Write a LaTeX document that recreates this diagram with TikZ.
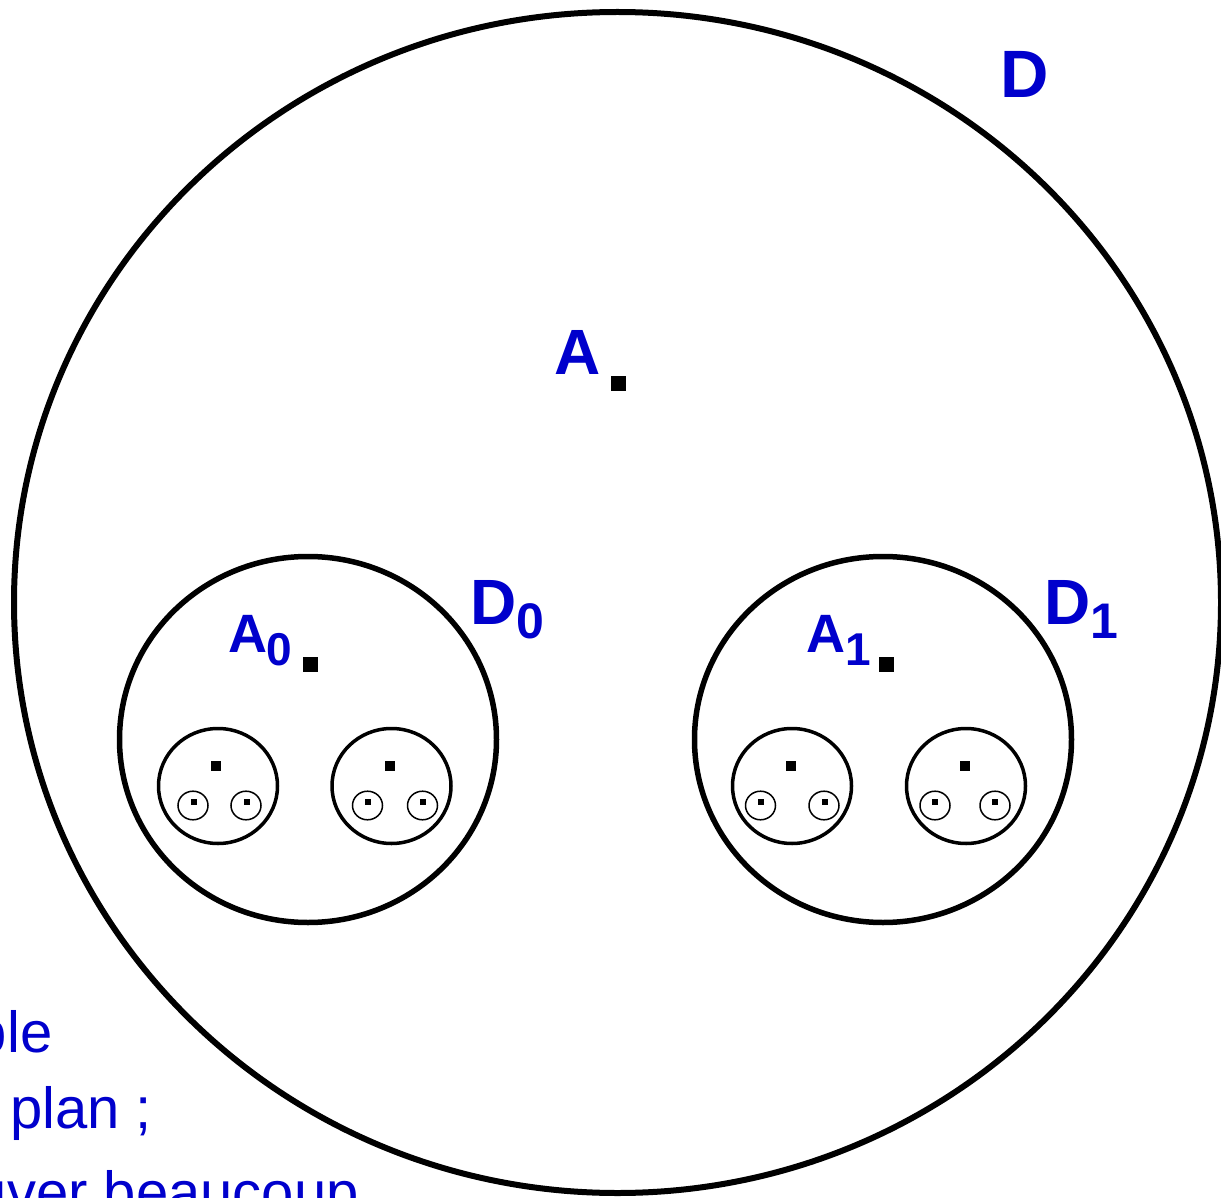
\documentclass[tikz,border=0pt]{standalone}
\usepackage{fontspec}
\setmainfont{Liberation Sans}
\definecolor{lblue}{RGB}{0,0,204}
\tikzset{
  bigring/.style={draw=black,line width=6pt},
  dring/.style={draw=black,line width=5.5pt},
  smallring/.style={draw=black,line width=3.5pt},
  tinyring/.style={draw=black,line width=1.5pt},
  ptbig/.style={fill=black,minimum size=15pt,inner sep=0pt,outer sep=0pt,rectangle},
  ptmid/.style={fill=black,minimum size=10pt,inner sep=0pt,outer sep=0pt,rectangle},
  pttiny/.style={fill=black,minimum size=6pt,inner sep=0pt,outer sep=0pt,rectangle},
  lbl/.style={text=lblue,inner sep=0pt,outer sep=0pt,anchor=base west,font=\bfseries},
  body/.style={text=lblue,inner sep=0pt,outer sep=0pt,anchor=base west,font=\fontsize{58}{58}\selectfont}
}
\begin{document}
\begin{tikzpicture}[x=1pt,y=-1pt]
\useasboundingbox (0,0) rectangle (1221,1198);
\clip (0,0) rectangle (1221,1198);
\fill[white] (0,0) rectangle (1221,1198);
% big domain D
\draw[bigring] (617.5,602.5) ellipse [x radius=603.5, y radius=590.5];
% D0 and D1
\draw[dring] (308,739.5) ellipse [x radius=188.5, y radius=183];
\draw[dring] (883,739.5) ellipse [x radius=188.5, y radius=183];
% small circles
\foreach \cx in {218,391.5,792,966}{
  \draw[smallring] (\cx,786) ellipse [x radius=59.5, y radius=57.5];
}
% tiny circles
\foreach \cx in {193,246,367.5,422.5,760.5,824,935,995}{
  \draw[tinyring] (\cx,805.5) ellipse [x radius=15, y radius=14.3];
}
% points
\node[ptbig] (pA) at (618,383) {};
\node[ptbig] (pA0) at (310,664) {};
\node[ptbig] (pA1) at (886,664) {};
\node[ptmid] (p00) at (216,766) {};
\node[ptmid] (p01) at (390,766) {};
\node[ptmid] (p10) at (791,766) {};
\node[ptmid] (p11) at (965,766) {};
\foreach \tx/\nm in {194/a,246.7/b,367.7/c,423.3/d,761/e,825/f,935/g,995/h}{
  \node[pttiny] (t\nm) at (\tx,802) {};
}
% labels
\node[lbl,font=\bfseries\fontsize{64}{64}\selectfont] (lA) at (554,374) {A};
\node[lbl,font=\bfseries\fontsize{67}{67}\selectfont] (lD) at (1000,98) {D};
\node[lbl,font=\bfseries\fontsize{64}{64}\selectfont] (lD0) at (470,624) {D\raisebox{-14pt}{\fontsize{50}{50}\selectfont 0}};
\node[lbl,font=\bfseries\fontsize{64}{64}\selectfont] (lD1) at (1044,624) {D\raisebox{-14pt}{\fontsize{50}{50}\selectfont 1}};
\node[lbl,font=\bfseries\fontsize{54}{54}\selectfont] (lA0) at (228,652) {A\raisebox{-13pt}{\fontsize{46}{46}\selectfont 0}};
\node[lbl,font=\bfseries\fontsize{54}{54}\selectfont] (lA1) at (806,652) {A\raisebox{-13pt}{\fontsize{46}{46}\selectfont 1}};
% cut-off body text
\node[body] (t1) at (-25,1052) {ble};
\node[body] (t2) at (10,1128) {plan ;};
\node[body] (t3) at (-25,1212) {uver beaucoup};
\end{tikzpicture}
\end{document}
